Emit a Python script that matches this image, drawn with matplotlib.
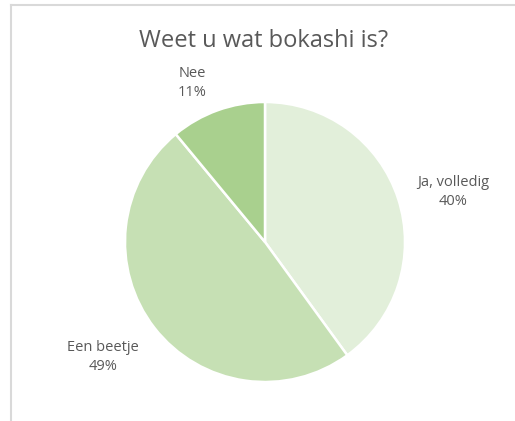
import matplotlib
matplotlib.use("Agg")
import matplotlib.pyplot as plt
from matplotlib.lines import Line2D

title = "Weet u wat bokashi is?"
categories = ["Ja, volledig", "Een beetje", "Nee"]
values = [40, 49, 11]
colors = ["#E2EFDA", "#C6E0B4", "#A9D08E"]

W, H = 515, 421
fig = plt.figure(figsize=(W / 100, H / 100), dpi=100)
ax = fig.add_axes([0, 0, 1, 1])

cx, cy, r = 265, H - 242, 140
ax.pie(values, colors=colors, startangle=90, counterclock=False,
       center=(cx, cy), radius=r, frame=True,
       wedgeprops=dict(edgecolor="white", linewidth=1.8))
ax.set_xlim(0, W)
ax.set_ylim(0, H)
ax.set_aspect("equal")
ax.axis("off")

font = "Open Sans"
tc = "#595959"
ax.text(264, H - 41, title, ha="center", va="center", fontsize=17,
        color=tc, family=font)

label_pos = [(453, H - 192), (103, H - 357), (192, H - 83)]
for (x, y), cat, v in zip(label_pos, categories, values):
    ax.text(x, y, f"{cat}\n{v}%", ha="center", va="center", fontsize=10.5,
            color=tc, family=font, linespacing=1.35)

fig.add_artist(Line2D([10.5 / W, 10.5 / W], [0, 1 - 5 / H], transform=fig.transFigure,
                      color="#D9D9D9", linewidth=1.5))
fig.add_artist(Line2D([10.5 / W, 1], [1 - 5 / H, 1 - 5 / H], transform=fig.transFigure,
                      color="#D9D9D9", linewidth=1.5))

fig.savefig("out.png", dpi=100, facecolor="white")
